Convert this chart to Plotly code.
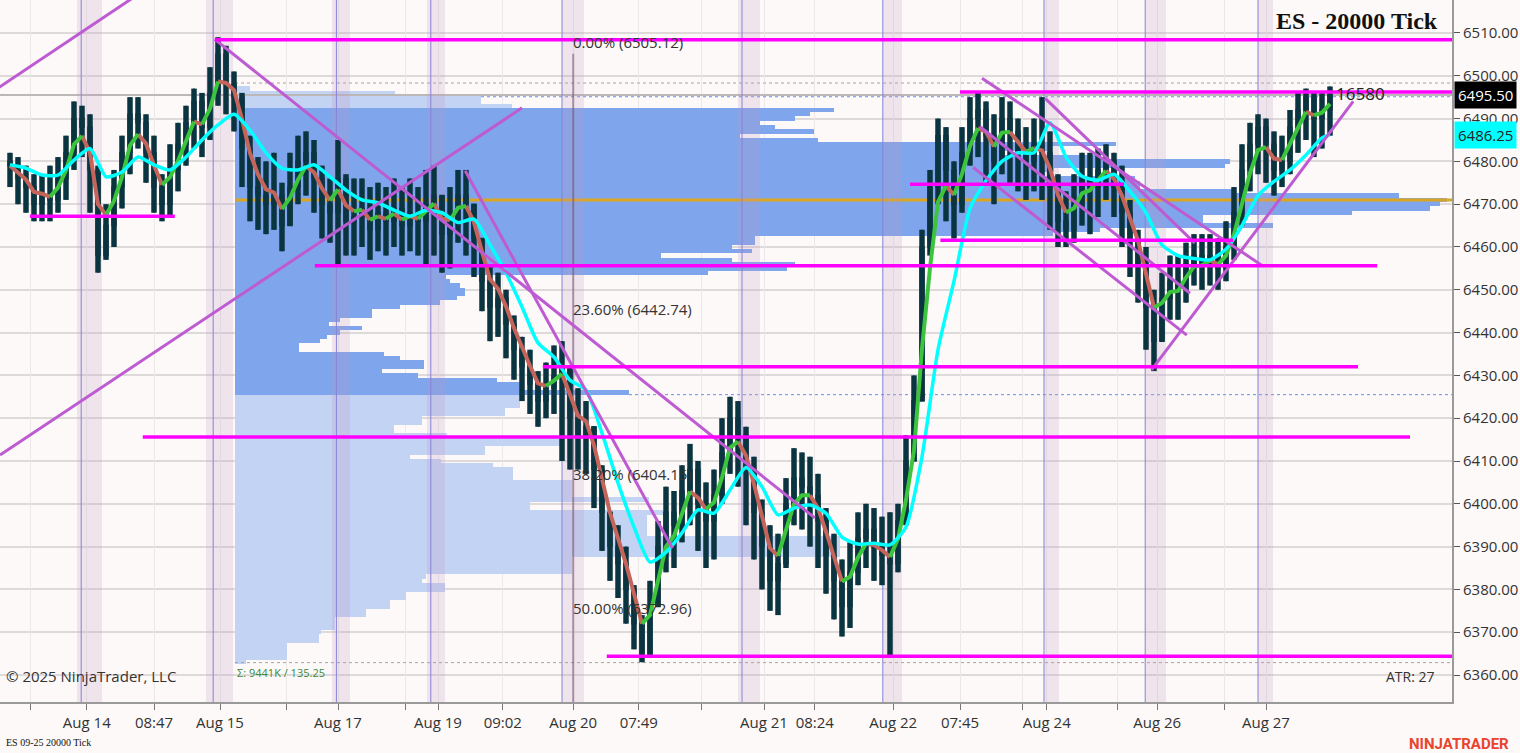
import plotly.graph_objects as go

# ---- price bars (20000 tick bars), one entry per bar ----
close = [6479, 6476, 6474, 6470, 6472, 6471, 6476, 6482, 6490, 6488,
         6478, 6458, 6465, 6474, 6482, 6491, 6489, 6482, 6474, 6470,
         6478, 6484, 6489, 6494, 6488, 6496, 6505, 6498, 6495, 6483,
         6474, 6472, 6470, 6472, 6465, 6474, 6480, 6482, 6476, 6470,
         6468, 6476, 6466, 6467, 6469, 6464, 6468, 6466, 6469, 6465,
         6468, 6466, 6470, 6472, 6463, 6466, 6472, 6470, 6462, 6452,
         6446, 6448, 6442, 6436, 6432, 6428, 6424, 6427, 6430, 6432,
         6420, 6416, 6418, 6408, 6398, 6390, 6386, 6380, 6372, 6365,
         6376, 6390, 6398, 6395, 6403, 6408, 6400, 6396, 6402, 6412,
         6420, 6416, 6408, 6398, 6390, 6382, 6386, 6400, 6406, 6404,
         6402, 6396, 6388, 6382, 6376, 6384, 6392, 6394, 6390, 6388,
         6386, 6396, 6410, 6424, 6460, 6474, 6486, 6478, 6470, 6482,
         6490, 6492, 6486, 6480, 6490, 6487, 6482, 6480, 6484, 6482,
         6474, 6466, 6464, 6470, 6476, 6474, 6478, 6480, 6474, 6468,
         6462, 6456, 6446, 6438, 6448, 6452, 6450, 6456, 6458, 6456,
         6458, 6455, 6460, 6468, 6478, 6484, 6488, 6484, 6478, 6480,
         6488, 6492, 6495, 6490, 6492, 6495.5]
high = [6482, 6481, 6479, 6477, 6477, 6479, 6481, 6486, 6494, 6493,
        6491, 6479, 6470, 6478, 6486, 6495, 6495, 6491, 6486, 6477,
        6484, 6489, 6493, 6497, 6496, 6502, 6509, 6507, 6501,
        6496, 6486, 6481, 6480, 6482, 6475, 6482, 6486, 6487, 6485, 6479,
        6476, 6485, 6477, 6476, 6476, 6474, 6475, 6474, 6476, 6474,
        6476, 6474, 6478, 6479, 6472, 6474, 6478, 6478, 6470,
        6462, 6456, 6454, 6450, 6444, 6439, 6436, 6431, 6433, 6437,
        6438, 6432, 6427, 6424, 6418, 6409, 6398, 6395, 6390, 6381, 6374,
        6382, 6396, 6404, 6403, 6409, 6414, 6410, 6405, 6408, 6420,
        6425, 6424, 6418, 6411, 6401, 6395, 6393, 6406, 6413, 6412,
        6411, 6407, 6399, 6393, 6387, 6391, 6398, 6400, 6399, 6397, 6398,
        6400, 6416, 6430, 6464, 6478, 6490, 6488, 6480,
        6488, 6495, 6496, 6494, 6491, 6495, 6494, 6490, 6488, 6490,
        6495, 6487, 6477, 6473, 6477, 6482, 6482, 6483, 6484, 6482,
        6479, 6471,
        6464, 6460, 6450, 6454, 6458, 6458, 6461, 6463, 6463, 6463,
        6462, 6466, 6474, 6484, 6489, 6491, 6490, 6487, 6486, 6492,
        6496, 6497, 6496, 6496, 6497.5]
low = [6474, 6470, 6468, 6466, 6466, 6466, 6468, 6471, 6478, 6481,
       6468, 6454, 6457, 6460, 6469, 6477, 6483, 6475, 6468, 6466,
       6467, 6473, 6479, 6483, 6481, 6485, 6493, 6491, 6487,
       6474, 6466, 6464, 6463, 6464, 6459, 6465, 6470, 6472, 6468, 6462,
       6461, 6456, 6458, 6458, 6460, 6457, 6459, 6458, 6460, 6458,
       6459, 6458, 6456, 6458, 6454, 6455, 6461, 6458, 6453,
       6445, 6438, 6439, 6434, 6429, 6424, 6421, 6418, 6420, 6421,
       6410, 6408, 6408, 6407, 6399, 6389, 6382, 6378, 6372, 6366, 6363,
       6364, 6376, 6384, 6385, 6391, 6395, 6389, 6385, 6387, 6400,
       6407, 6404, 6395, 6387, 6380, 6375, 6374, 6385, 6395, 6394,
       6390, 6385, 6379, 6373, 6369, 6371, 6381, 6385, 6382, 6381, 6364,
       6384, 6395, 6410, 6424, 6458, 6470, 6466, 6462,
       6468, 6479, 6481, 6475, 6470, 6477, 6475, 6473, 6471, 6473,
       6471, 6464, 6460, 6460, 6461, 6465, 6463, 6467, 6471, 6467,
       6460, 6453,
       6447, 6436, 6431, 6438, 6443, 6443, 6447, 6451, 6450, 6451,
       6450, 6452, 6457, 6465, 6473, 6477, 6475, 6472, 6474, 6477,
       6482, 6485, 6481, 6483, 6486]

# slow average (cyan), read every second bar plus the last bar
slow_ma = [6479.2, 6478.4, 6476.8, 6476.8, 6480.3, 6483.0, 6476.4, 6477.5, 6481.0, 6479.2,
           6478.0, 6481.0, 6485.0, 6488.5, 6491.0, 6487.3, 6482.0, 6478.4, 6478.0, 6479.2,
           6476.4, 6473.3, 6471.0, 6470.3, 6468.6, 6467.2, 6468.6, 6468.0, 6465.7, 6466.5,
           6460.5, 6454.0, 6446.0, 6437.6, 6434.3, 6428.9, 6426.6, 6416.5, 6404.9, 6394.6,
           6386.4, 6388.7, 6393.2, 6398.6, 6397.8, 6403.2, 6408.5, 6404.0, 6397.4, 6399.0,
           6399.7, 6397.8, 6392.2, 6390.6, 6390.8, 6390.4, 6394.6, 6411.0, 6436.0, 6452.0,
           6469.0, 6475.5, 6480.0, 6482.0, 6482.0, 6489.0, 6481.0, 6476.5, 6475.6, 6477.0,
           6473.0, 6468.0, 6460.5, 6458.0, 6457.3, 6457.0, 6459.5, 6465.0, 6472.0, 6475.3,
           6478.0, 6481.5, 6485.5, 6486.25]

# ---- x axis labels (bar index -> label) ----
tick_idx = [2.5, 9.6, 18, 26.25, 34.5, 41, 49.4, 53.5, 61.6, 70.4, 78.6,
            86.4, 94.25, 100.6, 110.4, 118.75, 126.6, 129.6, 138.4, 143.4,
            151.75, 157]
tick_text = ["", "Aug 14", "08:47", "Aug 15", "", "Aug 17", "", "Aug 19",
             "09:02", "Aug 20", "07:49", "", "Aug 21", "08:24", "Aug 22",
             "07:45", "", "Aug 24", "", "Aug 26", "", "Aug 27"]

# ---- session breaks ----
session_idx = [8.9, 25.4, 40.8, 52.6, 69.0, 91.5, 109.1, 129.25, 141.9, 156.0]
band_start = [8.4, 24.5, 40.2, 52.1, 69.0, 91.0, 109.1, 129.25, 141.9, 156.0]
band_end = [11.5, 27.9, 42.5, 54.4, 71.75, 93.75, 111.5, 131.1, 144.5, 157.9]

# ---- volume profile (1 pt rows, 6363 .. 6497) ----
vp_price = list(range(6363, 6498))
vp_vol = [11, 52, 52, 52, 52, 84, 84, 86, 100, 100,
          100, 131, 131, 155, 155, 171, 171, 210, 210, 187,
          191, 337, 337, 337, 337, 605, 605, 605, 605, 605,
          412, 412, 412, 412, 412, 428, 295, 295, 414, 337,
          337, 337, 337, 278, 278, 278, 258, 206, 175, 250,
          250, 329, 329, 212, 159, 159, 187, 187, 270, 270,
          285, 285, 285, 394, 285, 285, 262, 183, 147, 189,
          189, 165, 149, 64, 64, 85, 92, 105, 127, 94,
          105, 137, 137, 165, 205, 222, 230, 230, 225, 215,
          211, 473, 552, 560, 497, 426, 517, 497, 520, 520,
          818, 865, 1038, 968, 968, 1117, 1195, 1205, 1212, 1164,
          999, 905, 905, 900, 805, 819, 990, 995, 865, 765,
          815, 881, 583, 505, 579, 540, 525, 560, 575, 599,
          277, 246, 246, 160, 15]
value_area = (6426, 6492)
vp_high, vp_low = 6498.3, 6362.9
vah_line, val_line = 6495.1, 6425.5

# ---- drawings ----
hl_price = [6508.4, 6496.2, 6467.2, 6474.65, 6461.6, 6455.6, 6432.0, 6415.6, 6364.4]
hl_from = [25.6, 118.75, 2.5, 112.5, 116.3, 38.1, 66.6, 16.6, 74.6]
hl_to = [181, 181, 20.6, 139.25, 152.9, 170.9, 168.5, 175, 181]

trend_x0 = [-2.0, -1.25, 25.6, 56.9, 121.5, 129.4, 121.25, 120.4, 142.7]
trend_y0 = [6496.5, 6411.4, 6508.5, 6477.8, 6499.4, 6494.7, 6488.1, 6478.6, 6431.3]
trend_x1 = [16.0, 64.0, 100.6, 82.8, 156.5, 148.1, 147.5, 147.1, 167.9]
trend_y1 = [6519.0, 6492.5, 6396.7, 6389.6, 6455.7, 6460.9, 6449.2, 6439.4, 6494.0]

fib_idx = 70.1
fib_pct = ["0.00%", "23.60%", "38.20%", "50.00%"]
fib_price = [6505.12, 6442.74, 6404.15, 6372.96]

last_price = 6495.5
y_lo, y_hi = 6353.7, 6517.7

n = len(close)
idx = list(range(n))
opn = [close[0] + 1] + close[:-1]
slow_idx = list(range(0, n - 1, 2)) + [n - 1]


def ema(vals, span):
    a = 2.0 / (span + 1)
    out = [vals[0]]
    for v in vals[1:]:
        out.append(out[-1] + a * (v - out[-1]))
    return out


fast = ema(close, 3)

fig = go.Figure()

# profile on the base axes (drawn underneath everything)
dark = "#7FA6EC"
light = "#C3D3F3"
vp_col = [dark if value_area[0] <= p <= value_area[1] else light for p in vp_price]
fig.add_trace(go.Bar(y=vp_price, x=vp_vol, orientation="h", width=1.0,
                     marker=dict(color=vp_col, line=dict(width=0)),
                     xaxis="x", yaxis="y", hoverinfo="skip"))
vmax = max(vp_vol)
fig.add_trace(go.Scatter(x=[-400, vmax + 50], y=[last_price, last_price], mode="lines",
                         line=dict(color="#BDB8B8", width=2), xaxis="x", yaxis="y"))
for lv in (vp_high, vp_low):
    fig.add_trace(go.Scatter(x=[0, vmax + 50], y=[lv, lv], mode="lines",
                             line=dict(color="#A8A4A4", width=1, dash="dot"), xaxis="x", yaxis="y"))
for lv in (vah_line, val_line):
    start = vp_vol[vp_price.index(int(round(lv)))]
    fig.add_trace(go.Scatter(x=[start, vmax + 50], y=[lv, lv], mode="lines",
                             line=dict(color="#6F8FE0", width=1, dash="dot"), xaxis="x", yaxis="y"))
poc = vp_price[vp_vol.index(vmax)]
fig.add_trace(go.Scatter(x=[0, vmax + 50], y=[poc, poc], mode="lines",
                         line=dict(color="#DAA520", width=3), xaxis="x", yaxis="y"))

# session shading and separators
fig.add_trace(go.Bar(x=[(a + b) / 2 for a, b in zip(band_start, band_end)],
                     width=[b - a for a, b in zip(band_start, band_end)],
                     y=[y_hi - y_lo] * len(band_start), base=y_lo,
                     marker=dict(color="rgba(190,150,195,0.22)", line=dict(width=0)),
                     xaxis="x2", yaxis="y", hoverinfo="skip"))
sx, sy = [], []
for s in session_idx:
    sx += [s, s, None]
    sy += [y_lo, y_hi, None]
fig.add_trace(go.Scatter(x=sx, y=sy, mode="lines", line=dict(color="#8484D8", width=1),
                         xaxis="x2", yaxis="y"))
fig.add_trace(go.Scatter(x=[fib_idx + 0.3, fib_idx + 0.3], y=[fib_price[0], y_lo], mode="lines",
                         line=dict(color="rgba(110,80,105,0.55)", width=2), xaxis="x2", yaxis="y"))

# bars: thick high-low strokes with the candle bodies on top
bx, by = [], []
for i in range(n):
    bx += [idx[i], idx[i], None]
    by += [low[i], high[i], None]
fig.add_trace(go.Scatter(x=bx, y=by, mode="lines", line=dict(color="#0B3441", width=5.5),
                         xaxis="x2", yaxis="y", hoverinfo="skip"))
fig.add_trace(go.Candlestick(
    x=idx, open=opn, high=high, low=low, close=close, xaxis="x2", yaxis="y",
    increasing=dict(line=dict(color="#0B3441", width=1.5), fillcolor="#0B3441"),
    decreasing=dict(line=dict(color="#0B3441", width=1.5), fillcolor="#0B3441"),
    whiskerwidth=0, hoverinfo="skip"))

# fast MA, coloured by slope
runs = []
for i in range(1, n):
    col = "#3CC43C" if fast[i] >= fast[i - 1] else "#C4645A"
    if runs and runs[-1][0] == col:
        runs[-1][1].append(i)
    else:
        runs.append([col, [i - 1, i]])
for col in ("#C4645A", "#3CC43C"):
    fx, fy = [], []
    for c, pts in runs:
        if c == col:
            fx += [idx[k] for k in pts] + [None]
            fy += [fast[k] for k in pts] + [None]
    fig.add_trace(go.Scatter(x=fx, y=fy, mode="lines", line=dict(color=col, width=4),
                             xaxis="x2", yaxis="y"))
fig.add_trace(go.Scatter(x=slow_idx, y=slow_ma, mode="lines",
                         line=dict(color="#00FFFF", width=3.5, shape="spline", smoothing=0.6),
                         xaxis="x2", yaxis="y"))

# trend lines
tx, ty = [], []
for a, b, c, d in zip(trend_x0, trend_y0, trend_x1, trend_y1):
    tx += [a, c, None]
    ty += [b, d, None]
fig.add_trace(go.Scatter(x=tx, y=ty, mode="lines", line=dict(color="#BE5BD2", width=3),
                         xaxis="x2", yaxis="y"))

# horizontal levels
hx, hy = [], []
for p, a, b in zip(hl_price, hl_from, hl_to):
    hx += [a, b, None]
    hy += [p, p, None]
fig.add_trace(go.Scatter(x=hx, y=hy, mode="lines", line=dict(color="#FF00FF", width=3.5),
                         xaxis="x2", yaxis="y"))

annots = []
for pct, p in zip(fib_pct, fib_price):
    annots.append(dict(x=fib_idx, y=p, xref="x2", yref="y", text=f"{pct} ({p:.2f})",
                       showarrow=False, xanchor="left", yanchor="bottom",
                       font=dict(size=15, color="#333333", family="Open Sans")))
annots += [
    dict(x=n - 0.5, y=last_price + 0.3, xref="x2", yref="y", text="16580", showarrow=False,
         xanchor="left", yanchor="middle", font=dict(size=17, color="#222222", family="Open Sans")),
    dict(x=0.992, y=0.97, xref="paper", yref="paper", text="<b>ES - 20000 Tick</b>",
         showarrow=False, xanchor="right", yanchor="middle",
         font=dict(size=24, color="#111111", family="Liberation Serif")),
    dict(x=1.0, y=last_price, xref="paper", yref="y", text=f"{last_price:.2f}", showarrow=False,
         xanchor="left", yanchor="middle", xshift=2, bgcolor="#000000", borderpad=3,
         font=dict(size=15, color="#FFFFFF", family="Open Sans")),
    dict(x=1.0, y=slow_ma[-1], xref="paper", yref="y", text=f"{slow_ma[-1]:.2f}", showarrow=False,
         xanchor="left", yanchor="middle", xshift=2, bgcolor="#00FFFF", borderpad=3,
         font=dict(size=15, color="#222222", family="Open Sans")),
    dict(x=0.003, y=0.02, xref="paper", yref="paper", text="© 2025 NinjaTrader, LLC",
         showarrow=False, xanchor="left", yanchor="bottom",
         font=dict(size=15, color="#333333", family="Open Sans")),
    dict(x=0.99, y=0.02, xref="paper", yref="paper", text="ATR: 27", showarrow=False,
         xanchor="right", yanchor="bottom", font=dict(size=14, color="#333333", family="Open Sans")),
    dict(x=0, y=vp_low, xref="x", yref="y", text="Σ: 9441K / 135.25", showarrow=False,
         xanchor="left", yanchor="top", font=dict(size=11, color="#3A8A3A", family="Open Sans")),
    dict(x=0.003, y=0.0, xref="paper", yref="paper", text="ES 09-25 20000 Tick", showarrow=False,
         xanchor="left", yanchor="top", yshift=-33, font=dict(size=10, color="#111111", family="Liberation Sans Narrow")),
    dict(x=1.0, y=0.0, xref="paper", yref="paper", text="<b>NINJATRADER</b>", showarrow=False,
         xanchor="left", yanchor="top", xshift=-45, yshift=-31, font=dict(size=15, color="#E8442E", family="Roboto")),
]

fig.update_layout(
    width=1520, height=753,
    margin=dict(l=0, r=68, t=0, b=51),
    paper_bgcolor="#FDF9F8", plot_bgcolor="#FDF9F8",
    showlegend=False, bargap=0, boxgap=0.3, hovermode=False,
    xaxis=dict(range=[-235, vmax + 5], showgrid=False, showticklabels=False, zeroline=False,
               fixedrange=True),
    xaxis2=dict(overlaying="x", anchor="y", side="bottom", range=[-1.25, 180.25],
                tickvals=tick_idx, ticktext=tick_text, ticks="outside", ticklen=6,
                tickcolor="#777777", showgrid=True, gridcolor="#ECE8E8", gridwidth=1,
                showline=True, linecolor="#9A9A9A", linewidth=2, zeroline=False,
                tickfont=dict(size=15, color="#333333", family="Open Sans"),
                rangeslider=dict(visible=False)),
    yaxis=dict(side="right", range=[y_lo, y_hi], tick0=6360, dtick=10, tickformat=".2f",
               ticks="outside", ticklen=6, tickcolor="#555555", showline=True,
               linecolor="#9A9A9A", linewidth=2, showgrid=True, gridcolor="#DEDADA",
               gridwidth=1.5, zeroline=False,
               tickfont=dict(size=15, color="#333333", family="Open Sans")),
    annotations=annots,
)

fig.write_html("out.html", config={"displayModeBar": False},
               post_script="document.body.style.margin='0px';")
